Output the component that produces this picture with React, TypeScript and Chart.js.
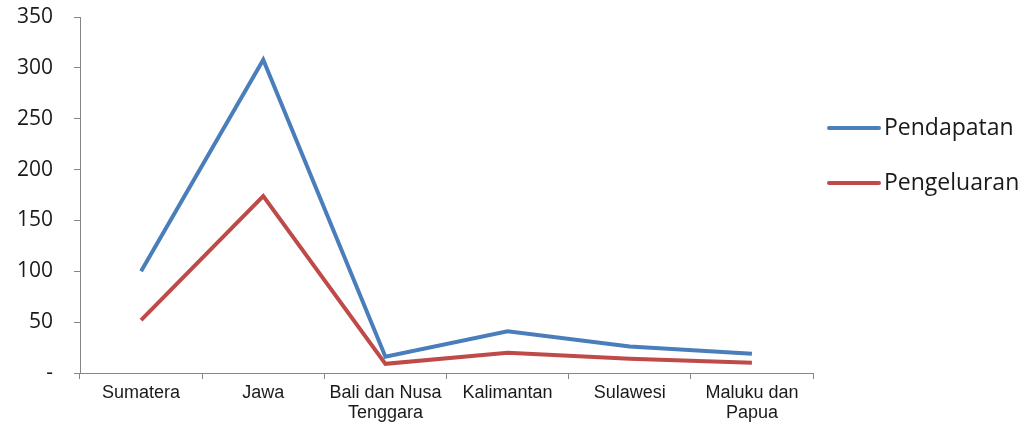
import React, { useEffect, useRef } from "react";
import { Chart, registerables } from "chart.js";

Chart.register(...registerables);

const categories: (string | string[])[] = [
  "Sumatera",
  "Jawa",
  ["Bali dan Nusa", "Tenggara"],
  "Kalimantan",
  "Sulawesi",
  ["Maluku dan", "Papua"],
];
const pendapatan = [100, 308, 16, 41, 26, 19];
const pengeluaran = [52, 174, 9, 20, 14, 10];
const yTicks = [0, 50, 100, 150, 200, 250, 300, 350];

const BLUE = "#4a7ebb";
const RED = "#be4b48";
const AXIS = "#868686";

// Legend drawn to the right of the plot: a short line swatch followed by the series name.
const sideLegend = {
  id: "sideLegend",
  afterDraw(chart: Chart) {
    const { ctx } = chart;
    const rows = [128, 183];
    ctx.save();
    chart.data.datasets.forEach((ds: any, i: number) => {
      const y = rows[i];
      ctx.strokeStyle = ds.borderColor;
      ctx.lineWidth = 4;
      ctx.lineCap = "round";
      ctx.beginPath();
      ctx.moveTo(829, y);
      ctx.lineTo(879, y);
      ctx.stroke();
      ctx.fillStyle = "#1a1a1a";
      ctx.font = '23px "Open Sans"';
      ctx.textBaseline = "middle";
      ctx.textAlign = "left";
      ctx.fillText(ds.label, 884, y);
    });
    ctx.restore();
  },
};

export default function App() {
  const ref = useRef<HTMLCanvasElement | null>(null);

  useEffect(() => {
    document.body.style.margin = "0";
    const canvas = ref.current;
    if (!canvas) return;
    const chart = new Chart(canvas, {
      type: "line",
      data: {
        labels: categories,
        datasets: [
          {
            label: "Pendapatan",
            data: pendapatan,
            borderColor: BLUE,
            backgroundColor: BLUE,
            borderWidth: 4,
            pointRadius: 0,
            tension: 0,
            borderJoinStyle: "miter",
          },
          {
            label: "Pengeluaran",
            data: pengeluaran,
            borderColor: RED,
            backgroundColor: RED,
            borderWidth: 4,
            pointRadius: 0,
            tension: 0,
            borderJoinStyle: "miter",
          },
        ],
      },
      options: {
        responsive: false,
        animation: false,
        layout: { padding: { top: 17, right: 218, bottom: 0, left: 0 } },
        plugins: {
          legend: { display: false },
          tooltip: { enabled: false },
        },
        scales: {
          x: {
            offset: true,
            border: { display: true, color: AXIS, width: 1 },
            grid: {
              offset: true,
              drawOnChartArea: false,
              drawTicks: true,
              tickLength: 6,
              color: AXIS,
            },
            ticks: {
              color: "#1a1a1a",
              font: { family: "Liberation Sans", size: 18, lineHeight: 1.1 },
              padding: 4,
              maxRotation: 0,
              autoSkip: false,
            },
            afterFit(scale: any) {
              scale.height = 54;
              scale.paddingLeft = 0;
              scale.paddingRight = 0;
            },
          },
          y: {
            min: 0,
            max: 350,
            border: { display: true, color: AXIS, width: 1 },
            grid: {
              drawOnChartArea: false,
              drawTicks: true,
              tickLength: 6,
              color: AXIS,
            },
            afterBuildTicks(scale: any) {
              scale.ticks = yTicks.map((v) => ({ value: v }));
            },
            ticks: {
              color: "#1a1a1a",
              font: { family: "Open Sans", size: 21 },
              padding: 21,
              callback: (v: any) => (Number(v) === 0 ? "-" : String(v)),
            },
            afterFit(scale: any) {
              scale.width = 80;
              scale.paddingTop = 0;
              scale.paddingBottom = 0;
            },
          },
        },
      },
      plugins: [sideLegend],
    });
    return () => chart.destroy();
  }, []);

  return (
    <div style={{ width: 1031, height: 427, background: "#fff" }}>
      <canvas ref={ref} width={1031} height={427} style={{ display: "block" }} />
    </div>
  );
}
